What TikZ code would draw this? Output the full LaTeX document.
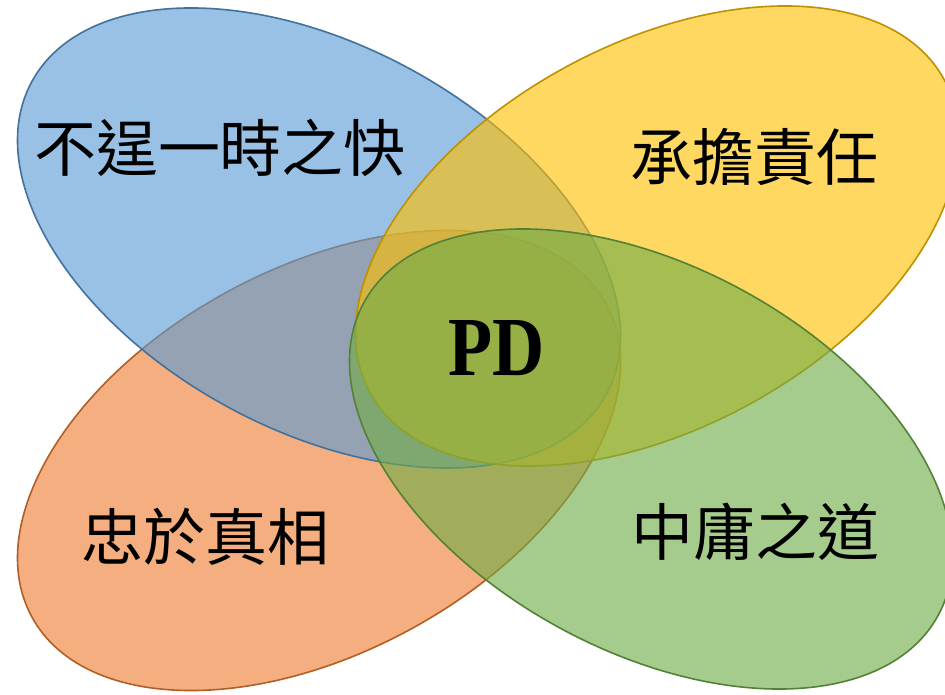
\documentclass[tikz,border=0pt]{standalone}
\usepackage{fontspec}
\usetikzlibrary{shapes.geometric}
\newfontfamily\cjkfont{Noto Sans CJK TC}
\newfontfamily\pdfont{Liberation Serif}
\definecolor{bluef}{HTML}{5B9BD5}
\definecolor{blueline}{HTML}{41719C}
\definecolor{orangef}{HTML}{ED7D31}
\definecolor{orangeline}{HTML}{B35E24}
\definecolor{yellowf}{HTML}{FFC000}
\definecolor{yellowline}{HTML}{BF9000}
\definecolor{greenf}{HTML}{70AD47}
\definecolor{greenline}{HTML}{538135}
\begin{document}
\begin{tikzpicture}[x=1pt,y=1pt,
  petal/.style={ellipse, draw, line width=1.6pt, fill opacity=0.62, draw opacity=1,
    inner sep=0pt, minimum width=654pt, minimum height=384pt},
  petaltext/.style={font=\cjkfont\fontsize{62}{62}\selectfont, inner sep=0pt, text=black},
  pdtext/.style={font=\pdfont\bfseries\fontsize{84}{84}\selectfont, inner sep=0pt, xscale=0.86, transform shape}]
\useasboundingbox (0,0) rectangle (945,694);
\node[petal, draw=orangeline, fill=orangef, rotate=28.6] (truth) at (319,233.5) {};
\node[petal, draw=blueline, fill=bluef, rotate=-28.6] (restraint) at (319,456) {};
\node[petal, draw=yellowline, fill=yellowf, rotate=28.6] (duty) at (657,458) {};
\node[petal, draw=greenline, fill=greenf, rotate=-28.6] (mean) at (651,235) {};
\node[petaltext] (t1) at (220,546) {不逞一時之快};
\node[petaltext] (t2) at (754,537) {承擔責任};
\node[petaltext] (t3) at (205,157) {忠於真相};
\node[petaltext] (t4) at (755,162) {中庸之道};
\node[pdtext, text=black] (pd) at (497,346) {PD};
\end{tikzpicture}
\end{document}
